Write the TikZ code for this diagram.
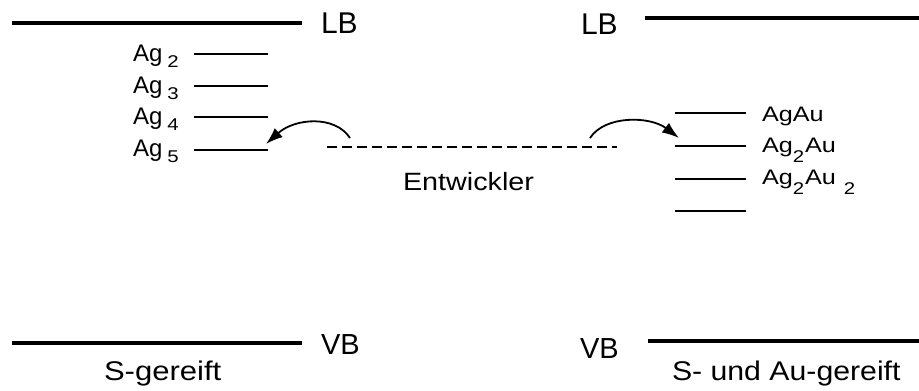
\documentclass[tikz,border=0pt]{standalone}
\usepackage{fontspec}
\setmainfont{Liberation Sans}
\usetikzlibrary{arrows.meta}
\newcommand\fsz[1]{\fontsize{#1}{#1}\selectfont}
\newcommand\sx[2]{\scalebox{#1}[1]{#2}}
\newcommand\agl[1]{\sx{1.0}{\fsz{24}Ag}\hspace{5pt}\raisebox{-6pt}{\sx{1.2}{\fsz{17}#1}}}
\newcommand\rsub[1]{\raisebox{-10pt}{\sx{1.2}{\fsz{17}#1}}}
\newcommand\rt[1]{\sx{1.2}{\fsz{21}#1}}
\begin{document}
\begin{tikzpicture}[x=1pt,y=-1pt,
  band/.style={line width=4.5pt},
  level/.style={line width=2pt},
  txt/.style={anchor=base west,inner sep=0pt,outer sep=0pt},
  curvearrow/.style={line width=1.8pt,-{Latex[length=17pt,width=12pt]}}]
\useasboundingbox[fill=white] (0,0) rectangle (919,391);
% bands
\draw[band] (12,23) -- (302,23);
\draw[band] (645,18) -- (919,18);
\draw[band] (12,343) -- (302,343);
\draw[band] (648,341) -- (919,341);
\node[txt] (lbl) at (321,33) {\fsz{30}LB};
\node[txt] (lbr) at (581,34) {\fsz{30}LB};
\node[txt] (vbl) at (321,354) {\fsz{29}VB};
\node[txt] (vbr) at (580,358) {\fsz{29}VB};
\node[txt] (sg) at (104,380) {\sx{1.15}{\fsz{27}S-gereift}};
\node[txt] (sag) at (672,380) {\sx{1.12}{\fsz{27}S- und Au-gereift}};
% left levels
\draw[level] (194,54) -- (268,54);
\draw[level] (194,86) -- (268,86);
\draw[level] (194,117) -- (268,117);
\draw[level] (194,150) coordinate (ag5w) -- (268,150) coordinate (ag5e);
\node[txt] (ag2) at (133,61) {\agl{2}};
\node[txt] (ag3) at (133,93) {\agl{3}};
\node[txt] (ag4) at (133,124) {\agl{4}};
\node[txt] (ag5) at (133,156) {\agl{5}};
% right levels
\draw[level] (675,113) -- (746,113);
\draw[level] (675,146) coordinate (r2w) -- (746,146);
\draw[level] (675,179) -- (746,179);
\draw[level] (675,211) -- (746,211);
\node[txt] (agau) at (762,121) {\rt{AgAu}};
\node[txt] (ag2au) at (762,152) {\rt{Ag}\rsub{2}\hspace{1pt}\rt{Au}};
\node[txt] (ag2au2) at (762,184) {\rt{Ag}\rsub{2}\hspace{1pt}\rt{Au}\hspace{8pt}\rsub{2}};
% developer level
\coordinate (dl) at (327,147);
\coordinate (dr) at (617,147);
\draw[line width=2pt,dash pattern=on 10pt off 5pt] (dl) -- (dr);
\node[txt] (ent) at (403,190) {\sx{1.15}{\fsz{25}Entwickler}};
% arrows
\coordinate (la) at (350,138);
\coordinate (lt) at (266,144);
\coordinate (ra) at (590,138);
\coordinate (rt) at (679,138);
\draw[curvearrow] (la) .. controls (335,115) and (295,118) .. (lt);
\draw[curvearrow] (ra) .. controls (605,115) and (650,116) .. (rt);
\end{tikzpicture}
\end{document}
